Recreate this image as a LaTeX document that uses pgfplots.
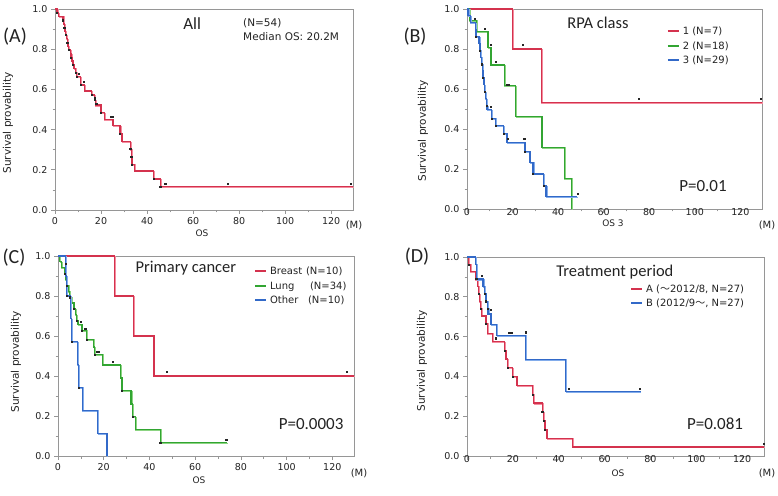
\documentclass[border=0pt]{standalone}
\usepackage{fontspec}
\setmainfont{DejaVu Sans}
\newfontfamily\calib{Carlito}
\newfontfamily\jpfont{Noto Sans CJK JP}
\usepackage{pgfplots}
\pgfplotsset{compat=1.18}

\definecolor{kmred}{RGB}{212,50,78}
\definecolor{kmredl}{RGB}{244,140,158}
\definecolor{kmgreen}{RGB}{50,165,50}
\definecolor{kmgreenl}{RGB}{140,212,130}
\definecolor{kmblue}{RGB}{50,105,200}
\definecolor{kmbluel}{RGB}{130,172,235}
\definecolor{axgray}{RGB}{150,150,150}
\definecolor{txt}{RGB}{35,35,35}

\newcommand{\legline}[1]{\textcolor{#1}{\rule[0.25em]{11pt}{2pt}}}

\tikzset{legnode/.style={anchor=north west, inner sep=0pt, text=txt, font=\fontsize{10}{12}\selectfont}}

\pgfplotsset{
  kmaxis/.style={
    scale only axis,
    xmin=0, xmax=129.5, ymin=0, ymax=1,
    xtick={0,20,40,60,80,100,120},
    ytick={0,0.2,0.4,0.6,0.8,1},
    minor x tick num=1, minor y tick num=1,
    yticklabel style={/pgf/number format/fixed, /pgf/number format/fixed zerofill,
      /pgf/number format/precision=1},
    /pgf/number format/assume math mode=true,
    tick align=outside, tick pos=left,
    major tick length=4pt, minor tick length=2.5pt,
    axis line style={axgray, line width=0.6pt},
    tick style={axgray, line width=0.6pt},
    tick label style={font=\fontsize{9.5}{11}\selectfont, text=txt},
    clip=false,
  },
  shade/.style={const plot, line width=1.5pt, xshift=0.7pt, yshift=-0.7pt, forget plot},
  main/.style={const plot, line width=1.3pt, forget plot},
  cens/.style={only marks, mark=square*, mark size=0.55pt, black!85, forget plot},
}

\begin{document}
\begin{tikzpicture}
\path[use as bounding box, fill=white] (0pt,0pt) rectangle (778pt,495pt);

% ---------------- (A) All
\begin{axis}[kmaxis, at={(55pt,285pt)}, anchor=south west, width=298pt, height=201pt]
\addplot[shade, kmredl] coordinates {(0,1)(0.9,0.981)(1.6,0.963)(3.5,0.944)(3.8,0.926)(4.0,0.907)(4.3,0.889)(4.6,0.870)(5.0,0.852)(5.3,0.833)(5.6,0.815)(6.0,0.796)(6.6,0.778)(7.0,0.759)(7.4,0.741)(7.8,0.722)(8.2,0.704)(8.8,0.685)(9.3,0.663)(11.0,0.622)(12.7,0.592)(16.0,0.572)(17.1,0.547)(17.5,0.522)(20.0,0.484)(21.5,0.451)(25.2,0.419)(28.3,0.381)(29.1,0.340)(32.7,0.303)(33.1,0.265)(33.4,0.227)(34.4,0.194)(42.8,0.154)(45.7,0.116)(129.5,0.116)};
\addplot[main, kmred] coordinates {(0,1)(0.9,0.981)(1.6,0.963)(3.5,0.944)(3.8,0.926)(4.0,0.907)(4.3,0.889)(4.6,0.870)(5.0,0.852)(5.3,0.833)(5.6,0.815)(6.0,0.796)(6.6,0.778)(7.0,0.759)(7.4,0.741)(7.8,0.722)(8.2,0.704)(8.8,0.685)(9.3,0.663)(11.0,0.622)(12.7,0.592)(16.0,0.572)(17.1,0.547)(17.5,0.522)(20.0,0.484)(21.5,0.451)(25.2,0.419)(28.3,0.381)(29.1,0.340)(32.7,0.303)(33.1,0.265)(33.4,0.227)(34.4,0.194)(42.8,0.154)(45.7,0.116)(129.5,0.116)};
\addplot[cens] coordinates {(0.9,0.981)(3.5,0.944)(4.0,0.907)(4.6,0.870)(5.3,0.833)(6.0,0.796)(7.0,0.759)(7.8,0.722)(8.8,0.685)(9.3,0.663)(11.0,0.622)(16.0,0.572)(17.1,0.547)(20.0,0.484)(28.3,0.381)(32.7,0.303)(33.1,0.265)(33.4,0.227)(42.8,0.154)(45.7,0.116)
  (10.3,0.68)(12.4,0.637)(17.2,0.556)(17.9,0.53)(24.4,0.466)(25.0,0.466)(47.9,0.13)(74.9,0.133)(128.4,0.133)};
\node[font=\calib\fontsize{17}{20}\selectfont, text=txt] at (rel axis cs:0.46,0.925) {All};
\node[anchor=west, font=\fontsize{10.5}{12}\selectfont, text=txt, inner sep=0pt] at (rel axis cs:0.631,0.93) {(N=54)};
\node[anchor=west, font=\fontsize{10.5}{12}\selectfont, text=txt, inner sep=0pt] at (rel axis cs:0.631,0.861) {Median OS: 20.2M};
\end{axis}

% ---------------- (B) RPA class
\begin{axis}[kmaxis, at={(467pt,286pt)}, anchor=south west, width=295pt, height=200pt,
  xticklabel style={yshift=8pt}]
\addplot[shade, kmredl] coordinates {(0,1)(19.9,0.8)(32.7,0.534)(129.5,0.534)};
\addplot[main, kmred] coordinates {(0,1)(19.9,0.8)(32.7,0.534)(129.5,0.534)};
\addplot[shade, kmgreenl] coordinates {(0,1)(1.0,0.944)(4.1,0.889)(9.2,0.807)(10.5,0.72)(16.4,0.617)(21.4,0.462)(32.9,0.308)(42.7,0.154)(45.9,0)};
\addplot[main, kmgreen] coordinates {(0,1)(1.0,0.944)(4.1,0.889)(9.2,0.807)(10.5,0.72)(16.4,0.617)(21.4,0.462)(32.9,0.308)(42.7,0.154)(45.9,0)};
\addplot[shade, kmbluel] coordinates {(0,1)(0.5,0.966)(1.5,0.931)(3.6,0.897)(3.9,0.862)(5.3,0.828)(5.7,0.793)(6.0,0.759)(6.3,0.724)(6.7,0.690)(7.0,0.655)(7.4,0.621)(7.8,0.586)(8.1,0.552)(8.5,0.517)(8.8,0.497)(10.7,0.453)(12.5,0.417)(16.0,0.378)(17.5,0.333)(25.4,0.287)(27.6,0.233)(29.0,0.175)(33.5,0.117)(34.7,0.062)(48.5,0.062)};
\addplot[main, kmblue] coordinates {(0,1)(0.5,0.966)(1.5,0.931)(3.6,0.897)(3.9,0.862)(5.3,0.828)(5.7,0.793)(6.0,0.759)(6.3,0.724)(6.7,0.690)(7.0,0.655)(7.4,0.621)(7.8,0.586)(8.1,0.552)(8.5,0.517)(8.8,0.497)(10.7,0.453)(12.5,0.417)(16.0,0.378)(17.5,0.333)(25.4,0.287)(27.6,0.233)(29.0,0.175)(33.5,0.117)(34.7,0.062)(48.5,0.062)};
\addplot[cens] coordinates {(24.6,0.82)(75.3,0.55)(129,0.55)
  (7.8,0.9)(10.3,0.82)(12.6,0.735)(17.6,0.62)(18.3,0.62)
  (3.5,0.953)(10.4,0.51)(17.7,0.35)(25.1,0.35)(48.4,0.075)
  (3.9,0.862)(5.7,0.793)(6.3,0.724)(7.0,0.655)(7.8,0.586)(8.5,0.517)(10.7,0.453)(12.5,0.417)(16.0,0.378)(25.4,0.287)(29.0,0.175)(33.5,0.117)};
\node[legnode] at (rel axis cs:0.68,0.915) {\begin{tabular}{@{}l@{\hspace{4pt}}l@{}}
  \legline{kmred} & 1 (N=7)\\[2.5pt]
  \legline{kmgreen} & 2 (N=18)\\[2.5pt]
  \legline{kmblue} & 3 (N=29)\end{tabular}};
\node[font=\calib\fontsize{16.5}{20}\selectfont, text=txt] at (rel axis cs:0.444,0.93) {RPA class};
\node[font=\calib\fontsize{17}{20}\selectfont, text=txt] at (rel axis cs:0.80,0.115) {P=0.01};
\end{axis}

% ---------------- (C) Primary cancer
\begin{axis}[kmaxis, at={(58pt,39pt)}, anchor=south west, width=296pt, height=200pt]
\addplot[shade, kmredl] coordinates {(0,1)(24.6,0.8)(33.1,0.6)(42.0,0.4)(129.5,0.4)};
\addplot[main, kmred] coordinates {(0,1)(24.6,0.8)(33.1,0.6)(42.0,0.4)(129.5,0.4)};
\addplot[shade, kmgreenl] coordinates {(0,1)(0.8,0.971)(1.4,0.941)(2.9,0.912)(3.3,0.882)(3.8,0.853)(4.4,0.824)(5.1,0.794)(6.0,0.765)(7.0,0.735)(7.6,0.706)(8.2,0.676)(8.7,0.657)(10.5,0.628)(12.5,0.583)(15.6,0.545)(16.1,0.508)(19.5,0.455)(27.4,0.39)(28.0,0.327)(32.0,0.26)(32.5,0.197)(33.8,0.133)(44.7,0.067)(74,0.067)};
\addplot[main, kmgreen] coordinates {(0,1)(0.8,0.971)(1.4,0.941)(2.9,0.912)(3.3,0.882)(3.8,0.853)(4.4,0.824)(5.1,0.794)(6.0,0.765)(7.0,0.735)(7.6,0.706)(8.2,0.676)(8.7,0.657)(10.5,0.628)(12.5,0.583)(15.6,0.545)(16.1,0.508)(19.5,0.455)(27.4,0.39)(28.0,0.327)(32.0,0.26)(32.5,0.197)(33.8,0.133)(44.7,0.067)(74,0.067)};
\addplot[shade, kmbluel] coordinates {(0,1)(3.2,0.9)(3.8,0.8)(5.6,0.686)(6.0,0.571)(8.4,0.457)(9.0,0.343)(10.6,0.229)(17.4,0.114)(21.4,0)};
\addplot[main, kmblue] coordinates {(0,1)(3.2,0.9)(3.8,0.8)(5.6,0.686)(6.0,0.571)(8.4,0.457)(9.0,0.343)(10.6,0.229)(17.4,0.114)(21.4,0)};
\addplot[cens] coordinates {(47.4,0.42)(126.4,0.42)
  (3.4,0.96)(9.9,0.67)(11.9,0.637)(17.0,0.523)(17.6,0.523)(24.1,0.47)(73.6,0.083)
  (2.9,0.912)(3.8,0.853)(5.1,0.794)(7.0,0.735)(8.2,0.676)(10.5,0.628)(12.5,0.583)(16.1,0.508)(28.0,0.327)(32.5,0.197)(44.7,0.067)
  (3.8,0.8)(6.0,0.571)(9.0,0.343)};
\node[legnode] at (rel axis cs:0.665,0.95) {\begin{tabular}{@{}l@{\hspace{4pt}}l@{}}
  \legline{kmred} & \makebox[36pt][l]{Breast}(N=10)\\[2.5pt]
  \legline{kmgreen} & \makebox[40pt][l]{Lung}(N=34)\\[2.5pt]
  \legline{kmblue} & \makebox[38pt][l]{Other}(N=10)\end{tabular}};
\node[font=\calib\fontsize{16.5}{20}\selectfont, text=txt] at (rel axis cs:0.432,0.94) {Primary cancer};
\node[font=\calib\fontsize{17}{20}\selectfont, text=txt] at (rel axis cs:0.855,0.16) {P=0.0003};
\end{axis}

% ---------------- (D) Treatment period
\begin{axis}[kmaxis, at={(467pt,39pt)}, anchor=south west, width=297pt, height=199pt,
  xticklabel style={yshift=8pt}]
\addplot[shade, kmredl] coordinates {(0,1)(0.8,0.963)(1.5,0.926)(3.7,0.889)(4.7,0.852)(5.1,0.815)(5.4,0.778)(5.8,0.741)(6.2,0.704)(8.3,0.667)(8.9,0.617)(11.0,0.574)(16.5,0.531)(17.0,0.488)(17.7,0.444)(19.9,0.40)(21.8,0.355)(28.5,0.31)(29.1,0.266)(32.8,0.222)(33.3,0.178)(34.0,0.133)(34.9,0.089)(45.9,0.045)(129.5,0.045)};
\addplot[main, kmred] coordinates {(0,1)(0.8,0.963)(1.5,0.926)(3.7,0.889)(4.7,0.852)(5.1,0.815)(5.4,0.778)(5.8,0.741)(6.2,0.704)(8.3,0.667)(8.9,0.617)(11.0,0.574)(16.5,0.531)(17.0,0.488)(17.7,0.444)(19.9,0.40)(21.8,0.355)(28.5,0.31)(29.1,0.266)(32.8,0.222)(33.3,0.178)(34.0,0.133)(34.9,0.089)(45.9,0.045)(129.5,0.045)};
\addplot[shade, kmbluel] coordinates {(0,1)(3.8,0.963)(4.0,0.926)(4.2,0.889)(7.0,0.852)(7.6,0.815)(8.3,0.778)(8.9,0.741)(9.2,0.714)(10.4,0.662)(12.9,0.606)(25.4,0.485)(43.0,0.323)(75.7,0.323)};
\addplot[main, kmblue] coordinates {(0,1)(3.8,0.963)(4.0,0.926)(4.2,0.889)(7.0,0.852)(7.6,0.815)(8.3,0.778)(8.9,0.741)(9.2,0.714)(10.4,0.662)(12.9,0.606)(25.4,0.485)(43.0,0.323)(75.7,0.323)};
\addplot[cens] coordinates {(6.3,0.906)(10.4,0.735)(18,0.62)(18.7,0.62)(19.4,0.62)(25.4,0.622)(44.4,0.34)(75.3,0.34)
  (12.6,0.592)(129.5,0.06)
  (0.8,0.963)(3.7,0.889)(5.1,0.815)(5.8,0.741)(8.3,0.667)(16.5,0.531)(17.7,0.444)(19.9,0.40)(28.5,0.31)(32.8,0.222)(33.3,0.178)(34.0,0.133)
  (4.2,0.889)(7.6,0.815)(8.3,0.778)(8.9,0.741)};
\node[legnode] at (rel axis cs:0.552,0.865) {\begin{tabular}{@{}l@{\hspace{4pt}}l@{}}
  \legline{kmred} & A ({\jpfont 〜}2012/8, N=27)\\[2.5pt]
  \legline{kmblue} & B (2012/9{\jpfont 〜}, N=27)\end{tabular}};
\node[font=\calib\fontsize{16.5}{20}\selectfont, text=txt] at (rel axis cs:0.498,0.925) {Treatment period};
\node[font=\calib\fontsize{17}{20}\selectfont, text=txt] at (rel axis cs:0.835,0.161) {P=0.081};
\end{axis}

% panel letters, axis titles
\begin{scope}[x=1pt, y=1pt, every node/.style={text=txt}]
\node[font=\calib\fontsize{20}{24}\selectfont] at (15,458) {(A)};
\node[font=\calib\fontsize{20}{24}\selectfont] at (415,458) {(B)};
\node[font=\calib\fontsize{20}{24}\selectfont] at (14,237) {(C)};
\node[font=\calib\fontsize{20}{24}\selectfont] at (417,238) {(D)};
\node[rotate=90, font=\fontsize{10.5}{12}\selectfont] at (8,372) {Survival provability};
\node[rotate=90, font=\fontsize{10.5}{12}\selectfont] at (423,364) {Survival provability};
\node[rotate=90, font=\fontsize{10.5}{12}\selectfont] at (16,133) {Survival provability};
\node[rotate=90, font=\fontsize{10.5}{12}\selectfont] at (422,134) {Survival provability};
\node[font=\fontsize{9}{11}\selectfont] at (202,262) {OS};
\node[font=\fontsize{9}{11}\selectfont] at (613,272) {OS 3};
\node[font=\fontsize{9}{11}\selectfont] at (199,15) {OS};
\node[font=\fontsize{9}{11}\selectfont] at (618,22) {OS};
\node[font=\fontsize{10}{12}\selectfont] at (354,270) {(M)};
\node[font=\fontsize{10}{12}\selectfont] at (767,270) {(M)};
\node[font=\fontsize{10}{12}\selectfont] at (359,22) {(M)};
\node[font=\fontsize{10}{12}\selectfont] at (767,22) {(M)};
\end{scope}
\end{tikzpicture}
\end{document}
